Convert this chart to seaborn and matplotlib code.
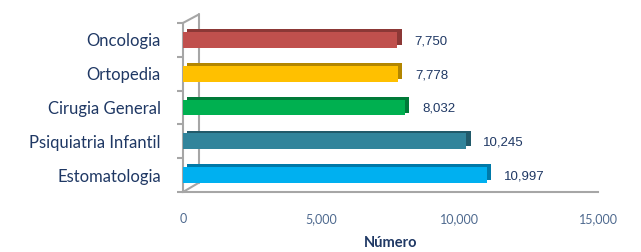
import numpy as np
import pandas as pd
import matplotlib
matplotlib.use("Agg")
import matplotlib.pyplot as plt
import matplotlib.patheffects as pe
from matplotlib.ticker import FuncFormatter, FixedLocator
import seaborn as sns

# ── Data ────────────────────────────────────────────────────────────────────
servicios = ["Oncologia", "Ortopedia", "Cirugia General",
             "Psiquiatria Infantil", "Estomatologia"]
numero = [7750, 7778, 8032, 10245, 10997]
colores = ["#C0504D", "#FFC000", "#00B050", "#31849B", "#00B0F0"]
oscuros = ["#8C3836", "#B38600", "#007A38", "#215A6A", "#0079A8"]
x_ticks = [0, 5000, 10000, 15000]

df = pd.DataFrame({"Servicio": servicios, "Número": numero})

sns.set_style("white")
plt.rcParams["font.family"] = ["Lato", "DejaVu Sans"]

fig = plt.figure(figsize=(6.41, 2.52), dpi=100)
ax = fig.add_axes([0.2855, 0.238, 0.6475, 0.671])

sns.barplot(data=df, x="Número", y="Servicio", hue="Servicio",
            palette=colores, width=0.47, legend=False, ax=ax, saturation=1,
            linewidth=0, edgecolor="none")

# pseudo 3D: darker side/top up-right of every bar
for patch, dark in zip(ax.patches, oscuros):
    patch.set_zorder(3)
    patch.set_linewidth(0)
    patch.set_path_effects([
        pe.SimplePatchShadow(offset=(3, 2), shadow_rgbFace=dark, alpha=1),
        pe.Normal()])
    w = patch.get_width()
    yc = patch.get_y() + patch.get_height() / 2
    ax.annotate(f"{w:,.0f}", (w, yc), xytext=(12, -1),
                textcoords="offset points", va="center", ha="left",
                fontsize=9.5, color="#1F3864",
                family=["Liberation Sans", "DejaVu Sans"])

ax.set_xlim(0, 15000)
ax.set_ylim(4.5, -0.5)
ax.xaxis.set_major_locator(FixedLocator(x_ticks))
ax.xaxis.set_major_formatter(FuncFormatter(lambda v, _: f"{v:,.0f}"))
ax.yaxis.set_minor_locator(FixedLocator(np.arange(-0.5, 5, 1)))

for s in ["top", "right"]:
    ax.spines[s].set_visible(False)
for s in ["left", "bottom"]:
    ax.spines[s].set_color("#A6A6A6")
    ax.spines[s].set_linewidth(1.5)

ax.tick_params(axis="x", which="major", direction="out", length=4,
               color="#A6A6A6", width=1.5, labelsize=9,
               labelcolor="#4F6A8F", pad=11)
ax.tick_params(axis="y", which="major", length=0, labelsize=12,
               labelcolor="#1F3864", pad=16)
ax.tick_params(axis="y", which="minor", direction="out", length=4,
               color="#A6A6A6", width=1.5, left=True)

# back wall of the 3D frame
wall = dict(color="#A6A6A6", lw=1.5, transform=ax.transAxes, clip_on=False,
            zorder=1)
ax.plot([0.038, 0.038], [0.055, 1.05], **wall)
ax.plot([0.0, 0.038], [0.0, 0.055], **wall)
ax.plot([0.0, 0.038], [1.0, 1.05], **wall)

ax.set_ylabel("")
ax.set_xlabel("Número", fontsize=10.5, fontweight="bold", color="#1F3864",
              labelpad=8)

fig.savefig("out.png", dpi=100)
